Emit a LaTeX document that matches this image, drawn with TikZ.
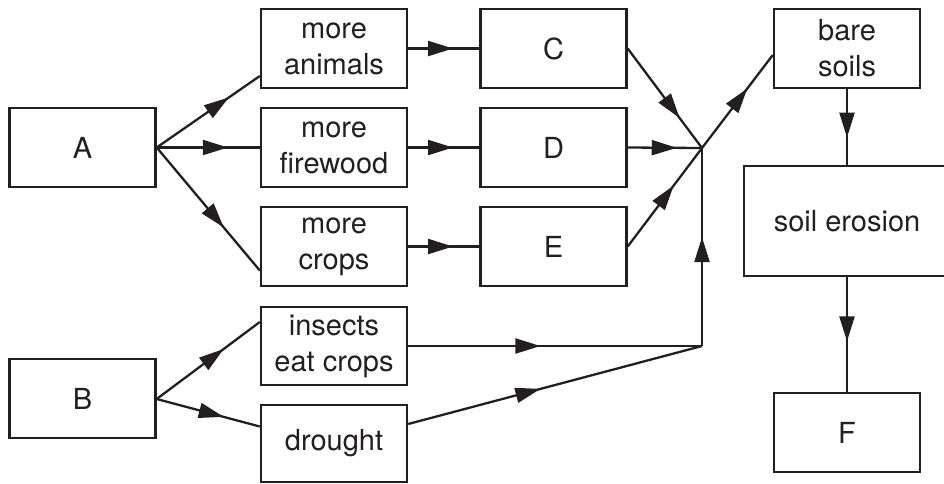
\documentclass[tikz,border=0pt]{standalone}
\usepackage{fontspec}
\setmainfont{TeX Gyre Heros}
\usetikzlibrary{arrows.meta,decorations.markings}
\definecolor{ink}{HTML}{231F20}
\begin{document}
\begin{tikzpicture}[x=1pt,y=-1pt,
  box/.style={draw=ink,line width=2.4pt,rectangle,inner sep=0pt,align=center,
    text=ink,font=\fontsize{29}{36}\selectfont,minimum width=146pt,minimum height=79pt},
  conn/.style={draw=ink,line width=2.3pt},
  midarrow/.style={conn,postaction={decorate,decoration={markings,
    mark=at position #1 with {\arrow[ink]{Triangle[length=25pt,width=15pt]}}}}}]
\useasboundingbox (0,0) rectangle (944,483);
\clip (0,0) rectangle (944,483);
\node[box] (A) at (82.5,147.5) {A};
\node[box] (B) at (82.5,398.5) {B};
\node[box] (ma) at (334,48.5) {more\\animals};
\node[box] (fw) at (334,147.5) {more\\firewood};
\node[box] (cr) at (334,246.5) {more\\crops};
\node[box,minimum height=78pt] (ins) at (334,346) {insects\\eat crops};
\node[box,minimum height=77pt] (dr) at (334,443.5) {drought};
\node[box] (C) at (553.5,48.5) {C};
\node[box] (D) at (553.5,147.5) {D};
\node[box] (E) at (553.5,246.5) {E};
\node[box] (bs) at (847,48.5) {bare\\soils};
\node[box,minimum width=206pt,minimum height=110pt] (se) at (847,221) {soil erosion};
\node[box] (F) at (847,432.5) {F};
\coordinate (J) at (702,148);
\coordinate (K) at (702,346);
\path[midarrow=0.70] (A.east) -- ([yshift=-27.5pt]ma.west);
\path[midarrow=0.69] (A.east) -- (fw.west);
\path[midarrow=0.65] (A.east) -- ([yshift=-24pt]cr.west);
\path[midarrow=0.65] ([yshift=-0.5pt]B.east) -- ([yshift=24pt]ins.west);
\path[midarrow=0.65] ([yshift=-0.5pt]B.east) -- ([yshift=17pt]dr.west);
\path[midarrow=0.63] (ma.east) -- (C.west);
\path[midarrow=0.63] (fw.east) -- (D.west);
\path[midarrow=0.63] (cr.east) -- (E.west);
\path[midarrow=0.70] (C.east) -- (J);
\path[midarrow=0.66] (D.east) -- (J);
\path[midarrow=0.62] (E.east) -- (J);
\path[midarrow=0.64] (J) -- ([yshift=-6.5pt]bs.west);
\path[midarrow=0.45] (ins.east) -- (K);
\path[midarrow=0.45] ([yshift=19.5pt]dr.east) -- (K);
\path[midarrow=0.55] (K) -- (J);
\path[midarrow=0.64] (bs.south) -- (se.north);
\path[midarrow=0.56] (se.south) -- (F.north);
\end{tikzpicture}
\end{document}
